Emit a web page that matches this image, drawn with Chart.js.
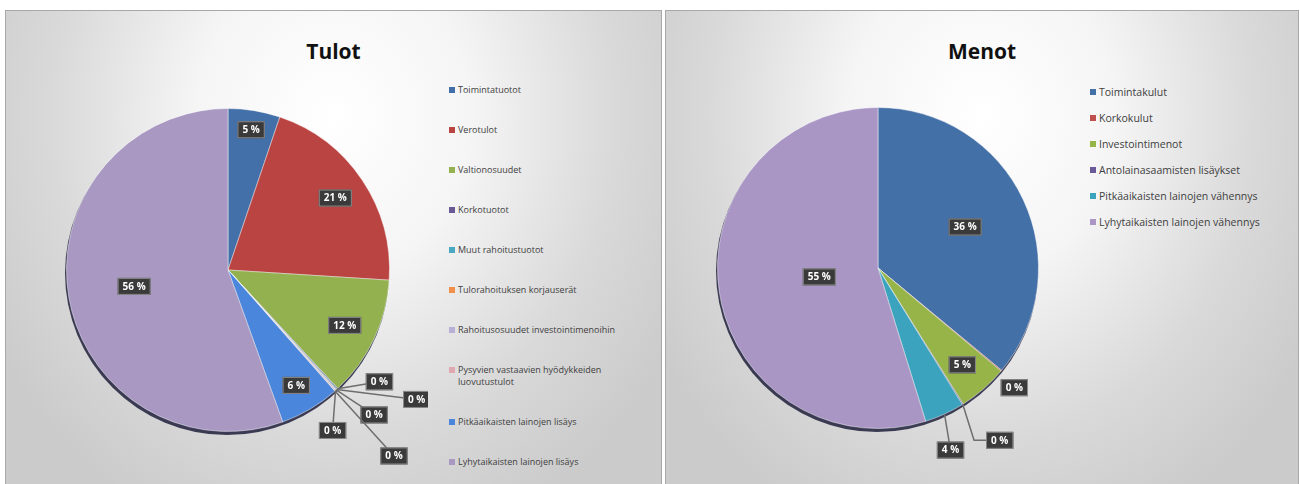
<!DOCTYPE html>
<html lang="fi">
<head>
<meta charset="UTF-8" />
<title>Tulot ja menot</title>
<script src="https://cdn.jsdelivr.net/npm/chart.js"></script>
<style>
  body { margin: 0; width: 1300px; height: 484px; background: #fff; position: relative; overflow: hidden;
         font-family: 'Open Sans', 'Liberation Sans', sans-serif; }
  .panel { position: absolute; top: 10px; height: 476px; border: 1px solid #a8a8a8; box-sizing: border-box;
           background: radial-gradient(ellipse 60% 95% at 50% 22%, #ffffff 0%, #f5f5f5 35%, #d9d9d9 72%, #cbcbcb 100%); }
  .panel h1 { position: absolute; top: 26px; left: 0; right: 0; margin: 0; text-align: center;
              font-size: 21px; font-weight: bold; color: #111; }
  .pie { position: absolute; }
  .legend { position: absolute; margin: 0; padding: 0; list-style: none; color: #404040; }
  .legend li { position: relative; padding-left: 9px; }
  .legend li span { position: absolute; left: 0; width: 6px; height: 6px; }
</style>
</head>
<body>
<div class="panel" id="p1" style="left:5px; width:657px;">
  <h1>Tulot</h1>
</div>
<div class="panel" id="p2" style="left:665px; width:634px;">
  <h1>Menot</h1>
</div>
<canvas id="c1" class="pie" width="400" height="400" style="left:28px; top:70px;"></canvas>
<canvas id="c2" class="pie" width="400" height="400" style="left:678px; top:68px;"></canvas>
<ul class="legend" id="l1" style="left:449px; top:84px; font-size:9px; line-height:12px;"></ul>
<ul class="legend" id="l2" style="left:1090px; top:86px; font-size:10.5px; line-height:13px;"></ul>

<script>
// Tulot
const tulotLabels = ['Toimintatuotot', 'Verotulot', 'Valtionosuudet', 'Korkotuotot', 'Muut rahoitustuotot',
  'Tulorahoituksen korjauserät', 'Rahoitusosuudet investointimenoihin',
  'Pysyvien vastaavien hyödykkeiden luovutustulot', 'Pitkäaikaisten lainojen lisäys', 'Lyhytaikaisten lainojen lisäys'];
const tulotValues = [5.2, 20.8, 12.1, 0.1, 0.1, 0.05, 0.1, 0.05, 6.0, 55.5];
const tulotColors = ['#4470a9', '#ba4441', '#93b24f', '#6a5a96', '#4aa8c2', '#f0904a',
  '#b8b0d6', '#e0a8b0', '#4a86dc', '#a898c2'];

// Menot
const menotLabels = ['Toimintakulut', 'Korkokulut', 'Investointimenot', 'Antolainasaamisten lisäykset',
  'Pitkäaikaisten lainojen vähennys', 'Lyhytaikaisten lainojen vähennys'];
const menotValues = [36.0, 0.1, 5.0, 0.1, 4.0, 54.8];
const menotColors = ['#4470a8', '#c0504d', '#96b447', '#6b5a9a', '#3ba3bd', '#a996c4'];

// legends (HTML)
function buildLegend(id, labels, colors, gap) {
  const ul = document.getElementById(id);
  labels.forEach((t, i) => {
    const li = document.createElement('li');
    li.style.marginBottom = gap + 'px';
    li.innerHTML = '<span style="background:' + colors[i] + '; top:3px"></span>' + t;
    ul.appendChild(li);
  });
}
buildLegend('l1', tulotLabels.map(t => t === 'Pysyvien vastaavien hyödykkeiden luovutustulot'
  ? 'Pysyvien vastaavien hyödykkeiden<br>luovutustulot' : t), tulotColors, 28);
buildLegend('l2', menotLabels, menotColors, 13);

// dark boxed percentage labels, some with leader lines
const pctLabels = {
  id: 'pctLabels',
  beforeDatasetsDraw(chart) {
    // dark rim under the pie, like the bevelled original
    const arc = chart.getDatasetMeta(0).data[0];
    const ctx = chart.ctx;
    ctx.save();
    ctx.beginPath();
    ctx.arc(arc.x - 1, arc.y + 3, arc.outerRadius + 0.5, 0, Math.PI * 2);
    ctx.fillStyle = 'rgba(30,30,60,0.85)';
    ctx.fill();
    ctx.restore();
  },
  afterDatasetsDraw(chart, args, opts) {
    const ctx = chart.ctx;
    const meta = chart.getDatasetMeta(0);
    const values = chart.data.datasets[0].data;
    const total = values.reduce((a, b) => a + b, 0);
    ctx.save();
    ctx.font = 'bold 10px "Open Sans", sans-serif';
    ctx.textAlign = 'center';
    ctx.textBaseline = 'middle';
    meta.data.forEach((el, i) => {
      const p = opts.place[i];
      if (!p) return;
      const mid = (el.startAngle + el.endAngle) / 2;
      let x, y;
      const ex = el.x + Math.cos(mid) * el.outerRadius;
      const ey = el.y + Math.sin(mid) * el.outerRadius;
      if (p.r !== undefined) {
        x = el.x + Math.cos(mid) * el.outerRadius * p.r;
        y = el.y + Math.sin(mid) * el.outerRadius * p.r;
      } else {
        x = ex + p.dx;
        y = ey + p.dy;
      }
      const txt = Math.round(values[i] / total * 100) + ' %';
      const w = ctx.measureText(txt).width + 10, h = 17;
      if (p.lead) {
        ctx.strokeStyle = '#6e6e6e';
        ctx.lineWidth = 1.5;
        ctx.beginPath();
        ctx.moveTo(ex, ey);
        if (p.elbow) { ctx.lineTo(x - w / 2 - 12, y); }
        ctx.lineTo(x, y);
        ctx.stroke();
      }
      ctx.fillStyle = '#3a3a3a';
      ctx.fillRect(x - w / 2, y - h / 2, w, h);
      ctx.strokeStyle = '#8a8a8a';
      ctx.lineWidth = 1;
      ctx.strokeRect(x - w / 2 + 0.5, y - h / 2 + 0.5, w - 1, h - 1);
      ctx.fillStyle = '#ffffff';
      ctx.fillText(txt, x, y + 0.5);
    });
    ctx.restore();
  }
};

function makePie(id, labels, values, colors, pad, place) {
  new Chart(document.getElementById(id), {
    type: 'pie',
    data: {
      labels: labels,
      datasets: [{
        data: values,
        backgroundColor: colors,
        borderColor: 'rgba(255,255,255,0.45)',
        borderWidth: 1
      }]
    },
    options: {
      responsive: false,
      animation: false,
      layout: { padding: pad },
      plugins: {
        legend: { display: false },
        tooltip: { enabled: false },
        pctLabels: { place: place }
      }
    },
    plugins: [pctLabels]
  });
}

makePie('c1', tulotLabels, tulotValues, tulotColors, 38, [
  { r: 0.88 }, { r: 0.8 }, { r: 0.8 },
  { dx: 42, dy: -7, lead: true },
  { dx: 80, dy: 10, lead: true },
  { dx: 38, dy: 25, lead: true },
  { dx: -3, dy: 40, lead: true },
  { dx: 59, dy: 65, lead: true },
  { r: 0.83 }, { r: 0.59 }
]);

makePie('c2', menotLabels, menotValues, menotColors, 39, [
  { r: 0.6 },
  { dx: 13, dy: 17 },
  { r: 0.8 },
  { dx: 37, dy: 36, lead: true, elbow: true },
  { dx: 6, dy: 36, lead: true },
  { r: 0.37 }
]);
</script>
</body>
</html>
